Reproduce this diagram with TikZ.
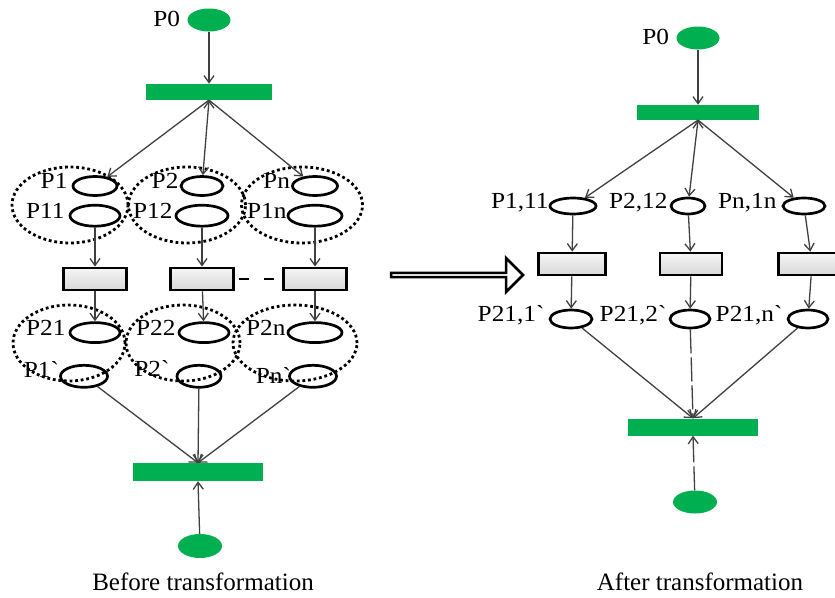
\documentclass[tikz,border=0pt]{standalone}
\usepackage{fontspec}
\setmainfont{Liberation Serif}
\newfontfamily\lblfont[FakeStretch=1.1]{Liberation Serif}
\usetikzlibrary{positioning,shapes.geometric,shapes.arrows,arrows.meta}
\definecolor{petrigreen}{RGB}{0,176,80}
\definecolor{arcgray}{RGB}{64,64,64}

\begin{document}
\begin{tikzpicture}[x=1pt,y=-1pt,>={Straight Barb[length=7pt,width=10pt]},
	token/.style={ellipse,fill=petrigreen,inner sep=0pt,minimum width=43pt,minimum height=23pt},
	bar/.style={rectangle,fill=petrigreen,inner sep=0pt,minimum width=126pt,minimum height=16pt},
	place/.style={ellipse,draw,fill=white,line width=2.7pt,inner sep=0pt,minimum width=46pt,minimum height=19pt},
	trans/.style={rectangle,draw,line width=2.7pt,inner sep=0pt,minimum width=63pt,minimum height=22pt,top color=gray!8,bottom color=gray!30},
	group/.style={ellipse,draw,line width=2.8pt,dash pattern=on 2.8pt off 2.8pt,inner sep=0pt,minimum height=76pt},
	lbl/.style={inner sep=0pt,text height=1.45ex,text depth=0.2ex,font=\lblfont\fontsize{23}{23}\selectfont},
	caption/.style={inner sep=0pt,font=\fontsize{25}{25}\selectfont},
	arc/.style={->,draw=arcgray,line width=1.3pt}]
	\clip (0,0) rectangle (835,597);

	% before transformation
	\node[token] (p0L) at (209,20) {};
	\node[lbl] (lp0L) [left=7pt of p0L, yshift=-4pt] {P0};
	\node[bar] (barTL) [below=52pt of p0L] {};

	\node[place,minimum width=44pt] (P1) at (95,186) {};
	\node[place,minimum width=50pt,minimum height=21pt] (P11) [below=7pt of P1] {};
	\node[place,minimum width=42pt] (P2) at (202,186) {};
	\node[place,minimum width=52pt,minimum height=21pt] (P12) [below=7pt of P2] {};
	\node[place,minimum width=45pt] (Pn) at (315,186) {};
	\node[place,minimum width=54pt,minimum height=21pt] (P1n) [below=7pt of Pn] {};

	\node[trans] (TL1) [below=39pt of P11] {};
	\node[trans] (TL2) [below=39pt of P12] {};
	\node[trans] (TL3) [below=39pt of P1n] {};

	\node[place,minimum width=50pt,minimum height=20pt] (P21) [below=30pt of TL1] {};
	\node[place,minimum width=47pt,minimum height=22pt] (P1b) [below=20pt of P21, xshift=-11pt] {};
	\node[place,minimum width=50pt,minimum height=20pt] (P22) [below=30pt of TL2, xshift=2pt] {};
	\node[place,minimum width=44pt,minimum height=22pt] (P2b) [below=20pt of P22, xshift=-5pt] {};
	\node[place,minimum width=54pt,minimum height=20pt] (P2n) [below=30pt of TL3] {};
	\node[place,minimum width=47pt,minimum height=22pt] (Pnb) [below=20pt of P2n, xshift=-2pt] {};

	\node[lbl] (lP1) [left=4pt of P1] {P1};
	\node[lbl] (lP11) [left=4pt of P11] {P11};
	\node[lbl] (lP2) [left=1pt of P2] {P2};
	\node[lbl] (lP12) [left=2pt of P12] {P12};
	\node[lbl] (lPn) [left=1pt of Pn] {Pn};
	\node[lbl] (lP1n) [left=0pt of P1n] {P1n};
	\node[lbl] (lP21) [left=3pt of P21] {P21};
	\node[lbl] (lP1b) [left=0pt of P1b, yshift=2pt] {P1`};
	\node[lbl] (lP22) [left=2pt of P22] {P22};
	\node[lbl] (lP2b) [left=6pt of P2b, yshift=3pt] {P2`};
	\node[lbl] (lP2n) [left=1pt of P2n] {P2n};
	\node[lbl] (lPnb) [left=-3pt of Pnb, yshift=-4pt] {Pn`};

	\node[group,minimum width=116pt] (G1) at (70,205) {};
	\node[group,minimum width=117pt] (G2) at (187,205) {};
	\node[group,minimum width=121pt] (G3) at (302,205) {};
	\node[group,minimum width=112pt] (G4) at (69,343) {};
	\node[group,minimum width=114pt] (G5) at (183,343) {};
	\node[group,minimum width=124pt] (G6) at (295,343) {};

	\node[bar,minimum width=130pt,minimum height=18pt] (barBL) at (198,472) {};
	\node[token,minimum width=44pt,minimum height=24pt] (tokBL) at (200,546) {};
	\node[caption] (capL) at (203,582) {Before transformation};

	\path[arc]
		(p0L) edge (barTL.north)
		(barTL.south) edge (P1)
			edge (P2)
			edge (Pn)
		(P11) edge (TL1)
		(P12) edge (TL2)
		(P1n) edge (TL3)
		(TL1) edge (P21)
		(TL2) edge (P22)
		(TL3) edge (P2n)
		(P1b) edge (barBL.north)
		(P2b) edge (barBL.north)
		(Pnb) edge (barBL.north)
		(tokBL) edge (barBL.south);
	\draw[line width=1.6pt,dash pattern=on 0pt off 4pt on 10pt off 15pt on 10pt off 40pt] (TL2) -- (TL3);

	% transformation
	\node[single arrow,draw,line width=2.6pt,inner sep=0pt,minimum width=34pt,minimum height=132pt,single arrow head extend=9pt] (shift) at (456,275) {};

	% after transformation
	\node[token] (p0R) at (698,38) {};
	\node[lbl] (lp0R) [left=7pt of p0R, yshift=-4pt] {P0};
	\node[bar,minimum width=122pt,minimum height=15pt] (barTR) [below=55pt of p0R] {};

	\node[place,minimum width=46pt,minimum height=16pt] (Q1) at (573,206) {};
	\node[place,minimum width=34pt,minimum height=16pt] (Q2) at (688,206) {};
	\node[place,minimum width=42pt,minimum height=16pt] (Qn) at (804,206) {};

	\node[trans,minimum width=67pt] (TR1) at (572,264) {};
	\node[trans,minimum width=62pt] (TR2) at (691,264) {};
	\node[trans,minimum width=67pt] (TR3) at (812,264) {};

	\node[place,minimum width=42pt,minimum height=18pt] (R1) at (571,319) {};
	\node[place,minimum width=40pt,minimum height=18pt] (R2) at (690,319) {};
	\node[place,minimum width=40pt,minimum height=18pt] (Rn) at (808,319) {};

	\node[lbl] (lQ1) [left=0pt of Q1] {P1,11};
	\node[lbl] (lQ2) [left=2pt of Q2] {P2,12};
	\node[lbl] (lQn) [left=5pt of Qn] {Pn,1n};
	\node[lbl] (lR1) [left=4pt of R1] {P21,1`};
	\node[lbl] (lR2) [left=2pt of R2] {P21,2`};
	\node[lbl] (lRn) [left=4pt of Rn] {P21,n`};

	\node[bar,minimum width=130pt,minimum height=17pt] (barBR) at (693,427) {};
	\node[token,minimum width=44pt,minimum height=23pt] (tokBR) at (695,502) {};
	\node[caption] (capR) at (700,582) {After transformation};

	\path[arc]
		(p0R) edge (barTR.north)
		(barTR.south) edge (Q1)
			edge (Q2)
			edge (Qn)
		(Q1) edge (TR1)
		(Q2) edge (TR2)
		(Qn) edge (TR3)
		(TR1) edge (R1)
		(TR2) edge (R2)
		(TR3) edge (Rn)
		(R1) edge (barBR.north)
		(Rn) edge (barBR.north);
	\path[arc,dash pattern=on 24pt off 4pt]
		(R2) edge (barBR.north)
		(tokBR) edge (barBR.south);

\end{tikzpicture}
\end{document}
